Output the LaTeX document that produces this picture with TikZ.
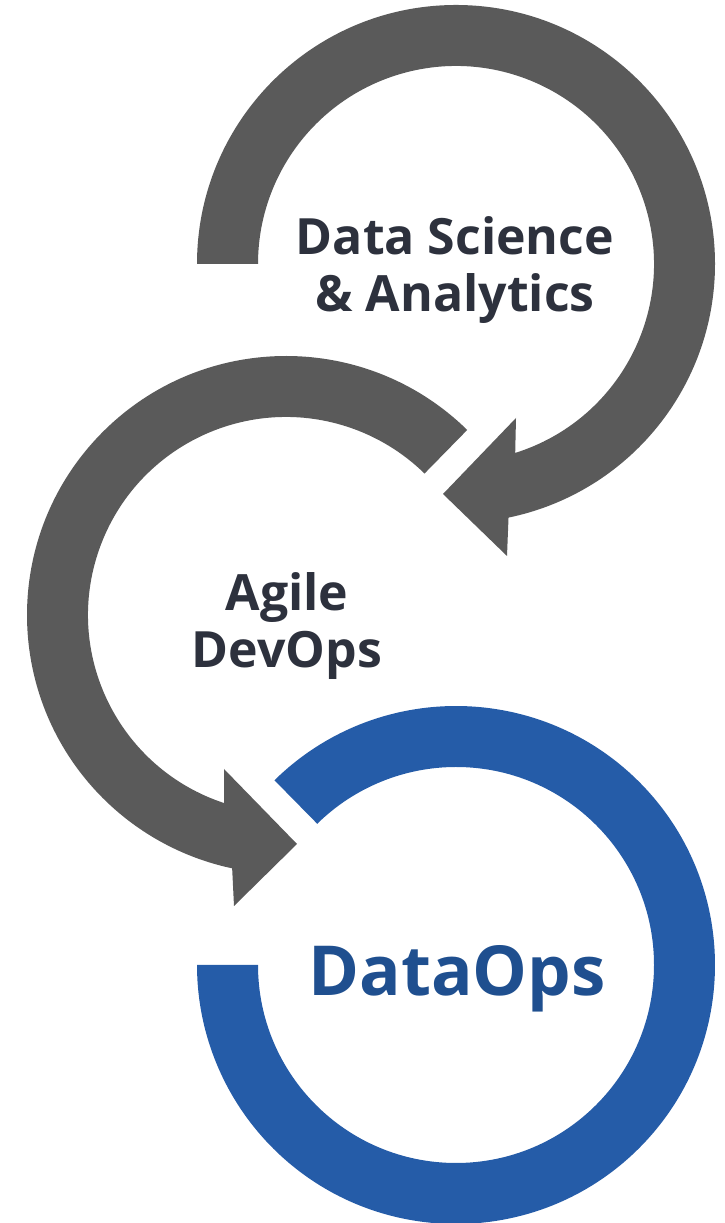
\documentclass[tikz,border=0pt]{standalone}
\usepackage{fontspec}
\setmainfont{Open Sans}
\usetikzlibrary{calc}

\definecolor{ringgray}{HTML}{5A5A5A}
\definecolor{ringblue}{HTML}{255CA8}
\definecolor{opsblue}{HTML}{1F4F8F}
\definecolor{labeltext}{HTML}{2D313D}

\tikzset{
	ringtext/.style={align=center, inner sep=0pt, text=labeltext, font=\fontsize{50}{57}\selectfont\bfseries},
}

\begin{document}
\begin{tikzpicture}[x=1pt, y=1pt]
				\useasboundingbox (0,0) rectangle (724,1223);
				
				\coordinate (top) at (456,959);
				\coordinate (mid) at (286,608);
				\coordinate (bot) at (456,258);
				
				% top ring, clockwise from the flat end
				\fill [ringgray] ($(top)+(180:259)$) arc [start angle=180, end angle=-78.3, radius=259] -- (507,667) -- (443,729) -- (516,805) -- ($(top)+(-72.6:198)$) arc [start angle=-72.6, end angle=180, radius=198] -- cycle;
				
				% middle ring, anticlockwise
				\fill [ringgray] ($(mid)+(45.6:259)$) arc [start angle=45.6, end angle=258, radius=259] -- (234,317) -- (297,379) -- (224,454) -- ($(mid)+(251.8:198)$) arc [start angle=251.8, end angle=45.6, radius=198] -- cycle;
				
				% bottom ring
				\fill [ringblue] ($(bot)+(134.5:259)$) arc [start angle=134.5, end angle=-180, radius=259] -- ($(bot)+(180:198)$) arc [start angle=-180, end angle=134.5, radius=198] -- cycle;
				
				% % % % % % % % % % % % % % % % % % % % % % % % % %
				
				% base is the last line
				\node [ringtext, anchor=base] (dsa) at (455,911) {Data Science\\\& Analytics};
				\node [ringtext, anchor=base] (agdev) at (287,555) {Agile\\DevOps};
				\node [ringtext, anchor=base, text=opsblue, font=\fontsize{69}{80}\selectfont\bfseries] (dops) at (457,227) {DataOps};
\end{tikzpicture}
\end{document}
